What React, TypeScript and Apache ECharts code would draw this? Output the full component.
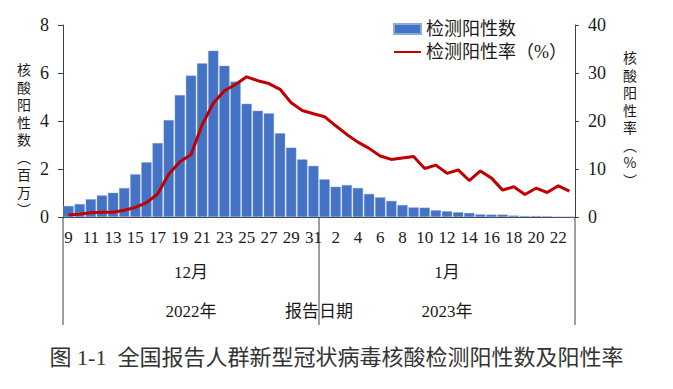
import React, { useEffect, useRef } from "react";
import * as echarts from "echarts";

const categories = [
  "12-9","12-10","12-11","12-12","12-13","12-14","12-15","12-16","12-17","12-18","12-19","12-20",
  "12-21","12-22","12-23","12-24","12-25","12-26","12-27","12-28","12-29","12-30","12-31",
  "1-1","1-2","1-3","1-4","1-5","1-6","1-7","1-8","1-9","1-10","1-11","1-12","1-13","1-14",
  "1-15","1-16","1-17","1-18","1-19","1-20","1-21","1-22","1-23",
];

// 检测阳性数（百万）
const positiveCounts = [
  0.46, 0.54, 0.74, 0.9, 1.01, 1.21, 1.78, 2.28, 3.08, 4.04, 5.08, 5.89,
  6.4, 6.93, 6.3, 5.64, 4.72, 4.43, 4.32, 3.49, 2.89, 2.4, 2.13,
  1.57, 1.26, 1.33, 1.21, 0.96, 0.82, 0.67, 0.5, 0.4, 0.39, 0.28, 0.24, 0.2, 0.17,
  0.11, 0.1, 0.1, 0.06, 0.04, 0.04, 0.03, 0.01, 0.01,
];

// 检测阳性率（%）
const positiveRates = [
  0.4, 0.6, 0.9, 1.0, 1.0, 1.4, 2.0, 3.0, 4.8, 8.9, 11.5, 13.0,
  19.2, 23.7, 26.3, 27.6, 29.2, 28.4, 27.8, 26.6, 23.8, 22.2, 21.5,
  20.9, 19.0, 17.2, 15.6, 14.3, 12.7, 12.0, 12.3, 12.6, 10.1, 10.8, 9.1, 9.8, 7.6,
  9.6, 8.1, 5.6, 6.3, 4.7, 6.0, 5.1, 6.5, 5.4,
];

const leftTicks = [0, 2, 4, 6, 8];
const rightTicks = [0, 10, 20, 30, 40];
const monthLabels = ["12月", "1月"];
const yearLabels = ["2022年", "2023年"];
const leftAxisName = ["核", "酸", "阳", "性", "数", "︵", "百", "万", "︶"];
const rightAxisName = ["核", "酸", "阳", "性", "率", "︵", "%", "︶"];

const SERIF = "'Liberation Serif', 'Noto Sans CJK SC', serif";
const CJK = "'Noto Sans CJK SC', sans-serif";
const AXIS_COLOR = "#404040";
const TEXT_COLOR = "#1a1a1a";

export default function App() {
  const ref = useRef<HTMLDivElement>(null);

  useEffect(() => {
    if (!ref.current) return;
    const chart = echarts.init(ref.current, null, { renderer: "svg" });
    const gridLeft = 63;
    const gridRight = 98;
    const gridTop = 25;
    const gridBottom = 172;
    chart.setOption({
      animation: false,
      backgroundColor: "#ffffff",
      title: {
        text: "图 1-1  全国报告人群新型冠状病毒核酸检测阳性数及阳性率",
        left: "center",
        top: 341,
        textStyle: { fontFamily: SERIF, fontSize: 22, fontWeight: "normal", color: "#333" },
      },
      legend: {
        orient: "vertical",
        left: 388,
        top: 14,
        itemWidth: 27,
        itemHeight: 10,
        itemGap: 3,
        textStyle: { fontFamily: SERIF, fontSize: 18, lineHeight: 20, color: TEXT_COLOR },
        data: [
          { name: "检测阳性数", icon: "rect" },
          { name: "检测阳性率（%）", itemStyle: { opacity: 0 } },
        ],
      },
      grid: { left: gridLeft, right: gridRight, top: gridTop, bottom: gridBottom },
      xAxis: {
        type: "category",
        data: categories,
        boundaryGap: true,
        axisLine: { lineStyle: { color: AXIS_COLOR, width: 1 } },
        axisTick: { interval: 0, length: 33, lineStyle: { color: AXIS_COLOR } },
        axisLabel: {
          interval: 1,
          margin: 12,
          hideOverlap: false,
          fontFamily: SERIF,
          fontSize: 17,
          color: TEXT_COLOR,
          formatter: (v: string) => v.split("-")[1],
        },
      },
      yAxis: [
        {
          type: "value",
          min: leftTicks[0],
          max: leftTicks[leftTicks.length - 1],
          interval: 2,
          splitLine: { show: false },
          axisLine: { show: true, lineStyle: { color: AXIS_COLOR } },
          axisTick: { show: true, length: 5, lineStyle: { color: AXIS_COLOR } },
          axisLabel: { margin: 14, fontFamily: SERIF, fontSize: 18, color: TEXT_COLOR },
        },
        {
          type: "value",
          min: rightTicks[0],
          max: rightTicks[rightTicks.length - 1],
          interval: 10,
          position: "right",
          splitLine: { show: false },
          axisLine: { show: true, lineStyle: { color: AXIS_COLOR } },
          axisTick: { show: true, length: 4, lineStyle: { color: AXIS_COLOR } },
          axisLabel: { margin: 13, fontFamily: SERIF, fontSize: 18, color: TEXT_COLOR },
        },
      ],
      series: [
        {
          name: "检测阳性数",
          type: "bar",
          yAxisIndex: 0,
          data: positiveCounts,
          barCategoryGap: "8%",
          itemStyle: { color: "#4472C4", borderColor: "#8eaadb", borderWidth: 0.4 },
        },
        {
          name: "检测阳性率（%）",
          type: "line",
          yAxisIndex: 1,
          data: positiveRates,
          symbol: "none",
          lineStyle: { color: "#C00000", width: 3 },
          itemStyle: { color: "#C00000" },
          z: 5,
        },
      ],
    });

    const px = (i: number) => chart.convertToPixel({ xAxisIndex: 0 }, i) as number;
    const decStart = 0;
    const decEnd = categories.indexOf("12-31");
    const janStart = decEnd + 1;
    const janEnd = categories.length - 1;
    const step = px(1) - px(0);
    const leftEdge = px(decStart) - step / 2;
    const midEdge = px(decEnd) + step / 2;
    const rightEdge = px(janEnd) + step / 2;
    const axisY = chart.convertToPixel({ yAxisIndex: 0 }, 0) as number;
    const lowY = axisY + 108;
    const decCenter = (px(decStart) + px(decEnd)) / 2;
    const janCenter = (px(janStart) + px(janEnd)) / 2;

    const vline = (x: number) => ({
      type: "line",
      shape: { x1: x, y1: axisY, x2: x, y2: lowY },
      style: { stroke: AXIS_COLOR, lineWidth: 1 },
      silent: true,
    });
    const label = (text: string, x: number, y: number, size = 17) => ({
      type: "text",
      x,
      y,
      style: {
        text,
        fill: TEXT_COLOR,
        font: `${size}px ${SERIF}`,
        textAlign: "center",
        textVerticalAlign: "middle",
      },
      silent: true,
    });
    const vertical = (chars: string[], x: number, y: number) =>
      chars.map((c, i) => ({
        type: "text",
        x,
        y: y + i * 17.5,
        style: {
          text: c,
          fill: TEXT_COLOR,
          font: `14px ${CJK}`,
          textAlign: "center",
          textVerticalAlign: "top",
        },
        silent: true,
      }));

    chart.setOption({
      graphic: [
        vline(leftEdge),
        vline(midEdge),
        vline(rightEdge),
        label(monthLabels[0], decCenter, 272),
        label(monthLabels[1], janCenter, 272),
        label(yearLabels[0], decCenter, 311),
        label(yearLabels[1], janCenter, 311),
        label("报告日期", midEdge, 311),
        ...vertical(leftAxisName, 24, 62),
        ...vertical(rightAxisName, 630, 50),
      ],
    });

    return () => chart.dispose();
  }, []);

  return (
    <div
      ref={ref}
      style={{ position: "fixed", left: 0, top: 0, width: 673, height: 389, background: "#fff" }}
    />
  );
}
